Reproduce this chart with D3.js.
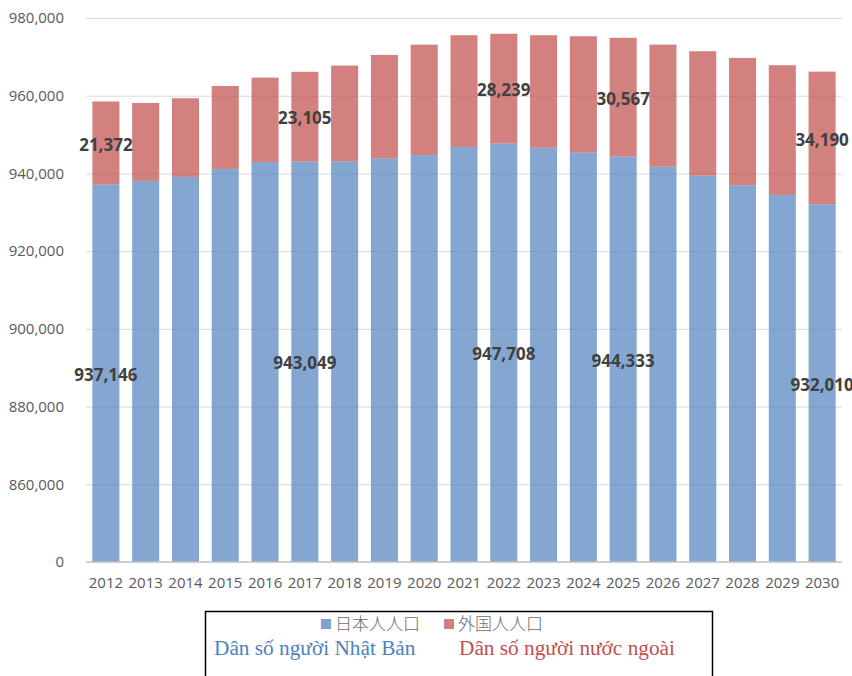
<!DOCTYPE html>
<html>
<head>
<meta charset="utf-8">
<script src="https://cdn.jsdelivr.net/npm/d3@7"></script>
<style>
  body { margin: 0; background: #fff; }
  svg { display: block; }
</style>
</head>
<body>
<script>
var years = ["2012","2013","2014","2015","2016","2017","2018","2019","2020","2021",
             "2022","2023","2024","2025","2026","2027","2028","2029","2030"];
var japanese = [937146, 938070, 939100, 941160, 942960, 943049, 943140, 943900, 944700, 946820,
                947708, 946640, 945350, 944333, 941750, 939430, 936960, 934470, 932010];
var foreign = [21372, 20080, 20250, 21340, 21700, 23105, 24610, 26600, 28450, 28750,
               28239, 28930, 29950, 30567, 31400, 32020, 32770, 33380, 34190];
var labelled = ["2012", "2017", "2022", "2025", "2030"];
var yTicks = [840000, 860000, 880000, 900000, 920000, 940000, 960000, 980000];

var width = 852, height = 676;
var plotLeft = 86, plotRight = 842, plotTop = 18, plotBottom = 562;

var svg = d3.select("body").append("svg")
    .attr("width", width)
    .attr("height", height);

var x = d3.scaleBand().domain(years).range([plotLeft, plotRight]).paddingInner(0.32).paddingOuter(0.16);
// axis is broken: the bottom line is labelled 0 but sits where 840,000 would be
var y = d3.scaleLinear().domain([840000, 980000]).range([plotBottom, plotTop]);
var fmt = d3.format(",");

// gridlines
svg.append("g")
    .attr("transform", "translate(" + plotLeft + ",0)")
    .call(d3.axisLeft(y).tickValues(yTicks.slice(1)).tickSize(-(plotRight - plotLeft)).tickFormat(""))
    .call(function (g) { g.select(".domain").remove(); })
    .selectAll("line").attr("stroke", "#d9d9d9").attr("stroke-width", 1);

// y tick labels
svg.append("g")
    .attr("transform", "translate(" + 70 + ",0)")
    .call(d3.axisLeft(y).tickValues(yTicks).tickSize(0).tickPadding(6)
        .tickFormat(function (d) { return d === 840000 ? "0" : fmt(d); }))
    .call(function (g) { g.select(".domain").remove(); })
    .selectAll("text")
    .attr("font-family", "'Open Sans', sans-serif")
    .attr("font-size", 15)
    .attr("fill", "#595959");

var rows = years.map(function (yr, i) {
    return { year: yr, jp: japanese[i], fr: foreign[i] };
});

// japanese bars
svg.selectAll("rect.jp").data(rows).enter().append("rect")
    .attr("class", "jp")
    .attr("x", function (d) { return x(d.year); })
    .attr("width", x.bandwidth())
    .attr("y", function (d) { return y(d.jp); })
    .attr("height", function (d) { return y(840000) - y(d.jp); })
    .attr("fill", "#4f81bd")
    .attr("fill-opacity", 0.7);

// foreign bars stacked on top
svg.selectAll("rect.fr").data(rows).enter().append("rect")
    .attr("class", "fr")
    .attr("x", function (d) { return x(d.year); })
    .attr("width", x.bandwidth())
    .attr("y", function (d) { return y(d.jp + d.fr); })
    .attr("height", function (d) { return y(d.jp) - y(d.jp + d.fr); })
    .attr("fill", "#c0504d")
    .attr("fill-opacity", 0.72);

// bottom axis line
svg.append("line")
    .attr("x1", plotLeft).attr("x2", plotRight)
    .attr("y1", y(840000)).attr("y2", y(840000))
    .attr("stroke", "#bfbfbf").attr("stroke-width", 1.5);

// x labels
svg.append("g")
    .attr("transform", "translate(0," + plotBottom + ")")
    .call(d3.axisBottom(x).tickSize(0).tickPadding(15))
    .call(function (g) { g.select(".domain").remove(); })
    .selectAll("text")
    .attr("font-family", "'Open Sans', sans-serif")
    .attr("font-size", 15)
    .attr("fill", "#595959");

// data labels
var lab = rows.filter(function (d) { return labelled.indexOf(d.year) >= 0; });
var labelStyle = function (sel) {
    sel.attr("text-anchor", "middle")
        .attr("dy", "0.45em")
        .attr("font-family", "'Open Sans', sans-serif")
        .attr("font-weight", "bold")
        .attr("font-size", 17)
        .attr("fill", "#404040");
};
svg.selectAll("text.jpl").data(lab).enter().append("text")
    .attr("class", "jpl")
    .attr("x", function (d) { return x(d.year) + x.bandwidth() / 2; })
    .attr("y", function (d) { return (y(840000) + y(d.jp)) / 2; })
    .text(function (d) { return fmt(d.jp); })
    .call(labelStyle);
svg.selectAll("text.frl").data(lab).enter().append("text")
    .attr("class", "frl")
    .attr("x", function (d) { return x(d.year) + x.bandwidth() / 2; })
    .attr("y", function (d) { return (y(d.jp) + y(d.jp + d.fr)) / 2; })
    .text(function (d) { return fmt(d.fr); })
    .call(labelStyle);

// legend box
svg.append("rect")
    .attr("x", 205.5).attr("y", 611.5)
    .attr("width", 507).attr("height", 80)
    .attr("fill", "#fff").attr("stroke", "#000").attr("stroke-width", 1.5);

var legend = [
    { name: "日本人人口", color: "#4f81bd", sx: 321, vn: "Dân số người Nhật Bản", vx: 214 },
    { name: "外国人人口", color: "#c0504d", sx: 444, vn: "Dân số người nước ngoài", vx: 459 }
];
var lg = svg.selectAll("g.leg").data(legend).enter().append("g").attr("class", "leg");
lg.append("rect")
    .attr("x", function (d) { return d.sx; }).attr("y", 619)
    .attr("width", 10).attr("height", 10)
    .attr("fill", function (d) { return d.color; })
    .attr("fill-opacity", 0.72);
lg.append("text")
    .attr("x", function (d) { return d.sx + 14; }).attr("y", 630)
    .attr("font-family", "'Noto Sans CJK JP', sans-serif")
    .attr("font-size", 17)
    .attr("font-weight", 300)
    .attr("fill", "#6e6e6e")
    .text(function (d) { return d.name; });
lg.append("text")
    .attr("x", function (d) { return d.vx; }).attr("y", 655)
    .attr("font-family", "'Liberation Serif', 'Times New Roman', serif")
    .attr("font-size", 21.3)
    .attr("fill", function (d) { return d.color; })
    .text(function (d) { return d.vn; });
</script>
</body>
</html>
